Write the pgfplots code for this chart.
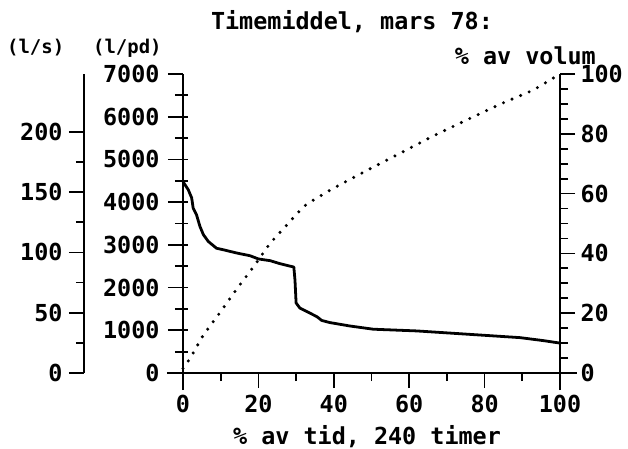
\documentclass[border=0pt]{standalone}
\usepackage{fontspec}
\setmainfont{DejaVu Sans Mono}
\usepackage{pgfplots}
\pgfplotsset{compat=1.18}

\newcommand{\bigtxt}{\fontsize{23.5}{27}\selectfont\bfseries}
\newcommand{\unittxt}{\fontsize{19}{22}\selectfont\bfseries}

% shared look of the three stacked axes
\pgfplotsset{
  plotter/.style={
    width=377bp, height=299bp, scale only axis,
    xmin=0, xmax=100,
    tick align=outside,
    major tick length=15bp, minor tick length=8bp,
    tick style={black, line width=1.8pt},
    axis line style={black, line width=2.2pt, -},
    ticklabel style={font=\bigtxt},
    /pgf/number format/assume math mode=true,
    /pgf/number format/1000 sep={},
    scaled ticks=false,
    clip=false,
  }
}

\begin{document}
\begin{tikzpicture}
\path[use as bounding box] (-183bp,-76bp) rectangle (445bp,373bp);

% main axis: time (%) vs l/pd
\begin{axis}[plotter,
    ymin=0, ymax=7000,
    axis x line*=bottom, axis y line*=left,
    x axis line style={shorten <=-16bp, shorten >=-17bp},
    y axis line style={shorten <=-17bp},
    xtick={0,20,...,100}, minor x tick num=1,
    xticklabel style={yshift=-4bp},
    ytick={0,1000,...,7000}, minor y tick num=1,
    yticklabel style={xshift=-5bp},
    extra y ticks={500,1000,...,6500},
    extra y tick labels={},
    extra y tick style={tick align=inside, major tick length=5bp},
]
\addplot[black, line width=2.8pt, line join=round] coordinates {
  (0,4480) (1.4,4290) (2.3,4100) (2.7,3860) (3.6,3700) (4.5,3430)
  (5.4,3240) (6.7,3080) (8.9,2920) (10.7,2885) (14.2,2810) (17.8,2745)
  (20,2670) (23.1,2630) (25.7,2560) (29.4,2480) (29.7,2180) (30,1640)
  (31,1520) (33.7,1400) (35.5,1320) (36.8,1230) (39,1180) (44.3,1100)
  (50.5,1025) (62,985) (76,905) (89.4,828) (95.6,758) (100,700)
};
\end{axis}

% right axis: % of volume
\begin{axis}[plotter,
    ymin=0, ymax=100,
    axis x line=none, axis y line*=right,
    y axis line style={shorten <=-17bp},
    ytick={0,20,...,100}, minor y tick num=3,
    yticklabel style={xshift=2bp},
]
\addplot[black, line width=3.4pt, line cap=round, dash pattern=on 0pt off 9.3bp] coordinates {
  (0,1.5) (1.9,4.9) (5.4,12.7) (9.8,20.2) (14.2,28) (18.7,35.5)
  (23.1,43.4) (27.9,50) (30,53) (32.8,56.5) (39.9,61.8) (48.7,67.7)
  (57.6,73.5) (66.4,79.3) (75.2,84.6) (84.1,89.9) (92.9,94.6) (100,100)
};
\end{axis}

% outer left axis: l/s
\begin{axis}[plotter, at={(-99bp,0)},
    ymin=0, ymax=248,
    axis x line=none, axis y line*=left,
    ytick={0,50,...,200}, minor y tick num=1,
    yticklabel style={xshift=-3bp},
]
\addplot[draw=none] coordinates {(0,0)};
\end{axis}

\node[font=\bigtxt, inner sep=0pt] at (169bp,351bp) {Timemiddel, mars 78:};
\node[font=\unittxt, inner sep=0pt, anchor=west] at (-176bp,325bp) {(l/s)};
\node[font=\unittxt, inner sep=0pt, anchor=west] at (-90bp,325bp) {(l/pd)};
\node[font=\bigtxt, inner sep=0pt, anchor=east] at (413bp,317bp) {\% av volum};
\node[font=\bigtxt, inner sep=0pt] at (184bp,-64bp) {\% av tid, 240 timer};
\end{tikzpicture}
\end{document}
